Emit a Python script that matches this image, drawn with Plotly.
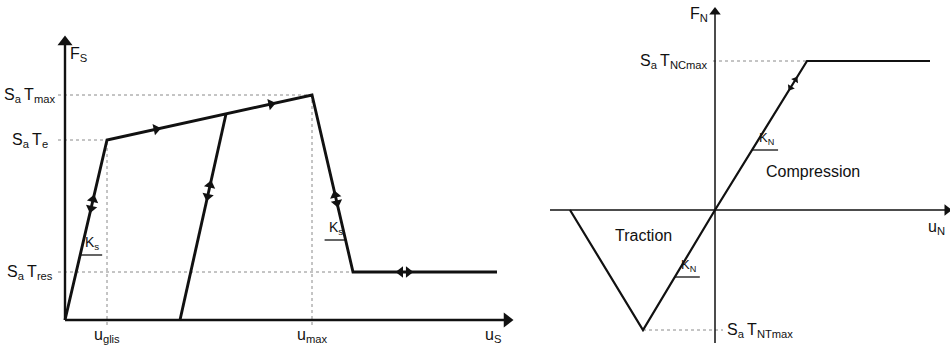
import math
import plotly.graph_objects as go

# ---- left diagram: shear law F_S(u_S), units ~ arbitrary
u_glis, T_e = 0.42, 1.80
u_max, T_max = 2.47, 2.25
T_res = 0.48
u_res = 2.88          # u where the softening branch reaches T_res
u_end = 4.32          # end of residual plateau
u_reload = [1.15, 1.61]
F_reload = [0.0, 2.06]

shear_u = [0.0, u_glis, u_max, u_res, u_end]
shear_F = [0.0, T_e, T_max, T_res, T_res]

# axis extents (left: u_S / F_S, right: u_N / F_N)
left_axis_u = [0.0, 4.42]
left_axis_F = [0.0, 2.78]
right_axis_u = [-1.65, 2.32]
right_axis_F = [-1.33, 1.98]

# ---- right diagram: normal law F_N(u_N)
u_trac0 = -1.45
u_NT, T_NT = -0.72, -1.20
u_NC, T_NC = 0.92, 1.49
u_Nend = 2.15

normal_u = [u_trac0, u_NT, 0.0, u_NC, u_Nend]
normal_F = [0.0, T_NT, 0.0, T_NC, T_NC]

# direction marks: (segment start, segment end, position along segment t, +1 forward / -1 backward)
left_arrows = [
    ((0, 0), (u_glis, T_e), 0.67, 1), ((0, 0), (u_glis, T_e), 0.62, -1),
    ((u_glis, T_e), (u_max, T_max), 0.24, 1), ((u_glis, T_e), (u_max, T_max), 0.80, 1),
    ((u_reload[0], F_reload[0]), (u_reload[1], F_reload[1]), 0.655, 1),
    ((u_reload[0], F_reload[0]), (u_reload[1], F_reload[1]), 0.60, -1),
    ((u_max, T_max), (u_res, T_res), 0.565, -1), ((u_max, T_max), (u_res, T_res), 0.61, 1),
    ((u_res, T_res), (u_end, T_res), 0.33, -1), ((u_res, T_res), (u_end, T_res), 0.385, 1),
]
right_arrows = [
    ((0, 0), (u_NC, T_NC), 0.875, 1), ((0, 0), (u_NC, T_NC), 0.82, -1),
]

BLACK = "#111111"
GREY = "#8a8a8a"
FONT = "Liberation Sans, Arial, sans-serif"
TS = "&#8201;"  # thin space between S_a and T

fig = go.Figure()


def line(x, y, xa, ya, width=2.6, color=BLACK, dash="solid"):
    fig.add_trace(go.Scatter(x=x, y=y, mode="lines", xaxis=xa, yaxis=ya,
                             line=dict(color=color, width=width, dash=dash),
                             hoverinfo="skip", showlegend=False))


def arrows(specs, xa, ya, size):
    xs, ys, angs = [], [], []
    for (p0, p1, t, d) in specs:
        du, dF = (p1[0] - p0[0]) * d, (p1[1] - p0[1]) * d
        xs.append(p0[0] + t * (p1[0] - p0[0]))
        ys.append(p0[1] + t * (p1[1] - p0[1]))
        angs.append(math.degrees(math.atan2(du, dF)))
    fig.add_trace(go.Scatter(x=xs, y=ys, mode="markers", xaxis=xa, yaxis=ya,
                             marker=dict(symbol="triangle-up", size=size, angle=angs,
                                         color=BLACK, line=dict(width=0)),
                             hoverinfo="skip", showlegend=False))


def axes(us, Fs, xa, ya, width, size):
    # two axis lines crossing at the origin, arrowhead at the positive end
    line(us, [0, 0], xa, ya, width=width)
    line([0, 0], Fs, xa, ya, width=width)
    fig.add_trace(go.Scatter(x=[us[1], 0], y=[0, Fs[1]], mode="markers", xaxis=xa, yaxis=ya,
                             marker=dict(symbol="triangle-up", size=size, angle=[90, 0],
                                         color=BLACK, line=dict(width=0)),
                             hoverinfo="skip", showlegend=False))


def slope_mark(p0, p1, F, length, label, xa, ya, size=14):
    # short horizontal stroke starting on the branch, with a K label above
    u = p0[0] + (F - p0[1]) * (p1[0] - p0[0]) / (p1[1] - p0[1])
    line([u, u + length], [F, F], xa, ya, width=1.3)
    fig.add_annotation(x=u + length / 2 + 0.01, y=F + 0.01, xref=xa, yref=ya, text=label,
                       showarrow=False, yanchor="bottom", font=dict(size=size, family=FONT, color=BLACK))


# ---------- left diagram
# dotted guides
line([-0.07, u_max], [T_max, T_max], "x", "y", width=1, color=GREY, dash="dot")
line([-0.07, u_glis], [T_e, T_e], "x", "y", width=1, color=GREY, dash="dot")
line([-0.07, u_res], [T_res, T_res], "x", "y", width=1, color=GREY, dash="dot")
line([u_glis, u_glis], [-0.05, T_e], "x", "y", width=1, color=GREY, dash="dot")
line([u_max, u_max], [-0.05, T_max], "x", "y", width=1, color=GREY, dash="dot")

axes(left_axis_u, left_axis_F, "x", "y", 2.4, 13)
line(shear_u, shear_F, "x", "y", width=2.9)
line(u_reload, F_reload, "x", "y", width=2.9)
arrows(left_arrows, "x", "y", 10)
slope_mark((0, 0), (u_glis, T_e), 0.65, 0.22, "K<sub>s</sub>", "x", "y")
slope_mark((u_max, T_max), (u_res, T_res), 0.80, -0.21, "K<sub>s</sub>", "x", "y")

left_labels = [
    (-0.08, T_max, "S<sub>a</sub>" + TS + "T<sub>max</sub>", "right", "middle"),
    (-0.15, T_e, "S<sub>a</sub>" + TS + "T<sub>e</sub>", "right", "middle"),
    (-0.10, T_res, "S<sub>a</sub>" + TS + "T<sub>res</sub>", "right", "middle"),
    (0.03, 2.66, "F<sub>S</sub>", "left", "middle"),
    (u_glis, -0.04, "u<sub>glis</sub>", "center", "top"),
    (u_max, -0.04, "u<sub>max</sub>", "center", "top"),
    (4.28, -0.04, "u<sub>S</sub>", "center", "top"),
]
for x, y, t, xan, yan in left_labels:
    fig.add_annotation(x=x, y=y, xref="x", yref="y", text=t, showarrow=False,
                       xanchor=xan, yanchor=yan, font=dict(size=16, family=FONT, color=BLACK))

# ---------- right diagram
line([-0.02, u_NC], [T_NC, T_NC], "x2", "y2", width=1, color=GREY, dash="dot")
line([u_NT, 0.08], [T_NT, T_NT], "x2", "y2", width=1, color=GREY, dash="dot")

axes(right_axis_u, right_axis_F, "x2", "y2", 1.5, 10)
line(normal_u, normal_F, "x2", "y2", width=2.2)
arrows(right_arrows, "x2", "y2", 7)
slope_mark((0, 0), (u_NC, T_NC), 0.60, 0.26, "K<sub>N</sub>", "x2", "y2", size=13)
slope_mark((u_NT, T_NT), (0, 0), -0.67, 0.25, "K<sub>N</sub>", "x2", "y2", size=13)

right_labels = [
    (-0.05, T_NC, "S<sub>a</sub>" + TS + "T<sub>NCmax</sub>", "right", "middle"),
    (0.10, T_NT, "S<sub>a</sub>" + TS + "T<sub>NTmax</sub>", "left", "middle"),
    (-0.16, 1.96, "F<sub>N</sub>", "center", "middle"),
    (2.21, -0.17, "u<sub>N</sub>", "center", "middle"),
    (0.98, 0.39, "Compression", "center", "middle"),
    (-0.72, -0.25, "Traction", "center", "middle"),
]
for x, y, t, xan, yan in right_labels:
    fig.add_annotation(x=x, y=y, xref="x2", yref="y2", text=t, showarrow=False,
                       xanchor=xan, yanchor=yan, font=dict(size=16, family=FONT, color=BLACK))

hidden = dict(visible=False, showgrid=False, zeroline=False, fixedrange=True)
fig.update_layout(
    width=950, height=348,
    margin=dict(l=0, r=0, t=0, b=0),
    paper_bgcolor="white", plot_bgcolor="white",
    xaxis=dict(domain=[0, 540 / 950], range=[-0.65, 4.75], **hidden),
    yaxis=dict(domain=[0, 1], range=[-0.28, 3.20], **hidden),
    xaxis2=dict(domain=[540 / 950, 1], range=[-1.75, 2.35], **hidden),
    yaxis2=dict(domain=[0, 1], range=[-1.38, 2.10], anchor="x2", **hidden),
)

# the page's default body margin would push the figure 8px right/down
fig.write_html("out.html", post_script="document.body.style.margin='0';",
               config={"displayModeBar": False})
